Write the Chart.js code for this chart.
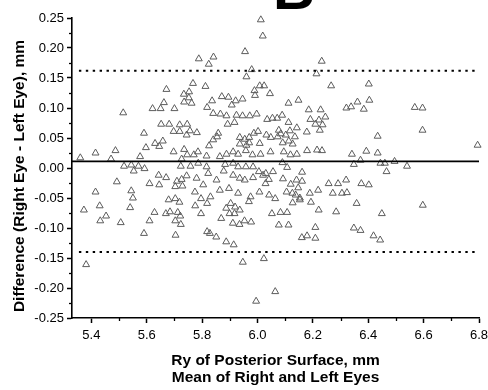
<!DOCTYPE html>
<html>
<head>
<meta charset="utf-8">
<script src="https://cdn.jsdelivr.net/npm/chart.js@4.4.0/dist/chart.umd.min.js"></script>
<style>
  html, body { margin: 0; padding: 0; background: #fff; }
  #wrap { width: 488px; height: 390px; }
</style>
</head>
<body>
<div id="wrap"><canvas id="chart" width="488" height="390"></canvas></div>
<script>
// ===============================
//  DATA
// ===============================
// x: Ry of posterior surface, mean of right and left eyes (mm)
const ryMean = [
  6.012, 6.019, 5.955, 5.788, 5.841, 5.824, 6.232, 5.979, 5.960, 6.213,
  5.671, 5.767, 5.812, 5.734, 5.753, 5.752, 5.735, 5.762, 6.008, 6.024,
  6.045, 5.989, 5.991, 6.266, 6.402, 6.404, 6.361, 6.384, 6.321, 6.338,
  6.148, 6.112, 6.185, 6.228, 6.191, 6.222, 6.245, 6.235, 6.568, 6.596,
  5.515, 5.621, 5.650, 5.662, 5.700, 5.818, 5.836, 5.840, 5.866, 5.871,
  5.895, 5.888, 5.907, 5.921, 5.946, 5.924, 5.946, 5.972, 5.997, 6.035,
  6.054, 6.071, 6.089, 6.112, 5.652, 5.681, 5.719, 5.746, 5.892, 5.917,
  6.209,
  6.077, 6.084, 6.102, 6.073, 6.117, 6.135, 6.113, 6.091, 6.127, 6.142,
  6.178, 6.225, 6.434, 6.596, 6.795, 6.095, 6.119, 6.142, 6.179, 6.215,
  6.233, 6.341, 6.393, 6.434, 6.372, 6.348, 6.444, 6.460, 6.495, 6.540,
  6.466, 6.107, 6.161, 6.092, 6.141, 6.161, 6.257, 6.291, 6.320, 6.375,
  6.402, 6.189, 6.219, 6.272, 6.305, 6.323, 6.105, 6.126, 6.147, 6.153,
  6.120, 6.138, 6.090,
  5.719, 5.744, 5.756, 5.781, 5.858, 5.936, 5.954, 5.970, 5.987, 6.002,
  6.032, 6.048, 5.735, 5.770, 5.746, 5.785, 5.825, 5.840, 5.854, 5.936,
  5.960, 5.970, 6.008, 6.047, 5.726, 5.816, 5.864, 5.888, 5.912, 5.930,
  5.958, 5.982, 6.011, 5.723, 5.758, 5.786, 5.816, 5.883, 5.912, 5.930,
  5.958, 5.984, 6.005, 6.030, 6.056, 5.726, 5.744, 5.780, 5.822, 5.852,
  5.878, 5.912, 5.936, 5.954, 5.984, 6.020, 6.041, 5.729, 5.774, 5.804,
  5.830, 5.864, 5.897, 5.930, 5.975, 6.007, 6.029, 6.042,
  5.697, 5.590, 5.658, 5.630, 5.645, 5.597, 5.697, 5.360, 5.415, 5.487,
  5.471, 5.576, 5.518, 5.544, 5.570, 5.592, 5.553, 5.643, 5.670, 5.492,
  5.610, 5.645, 5.415, 5.544, 5.550, 5.703, 5.709,
  5.373, 5.430, 5.432, 5.453, 5.506, 5.540, 5.590, 5.610, 5.628, 5.669,
  5.684, 5.703, 5.679, 5.718, 5.712, 5.721, 5.703, 5.723, 5.704, 5.775,
  5.796, 5.796, 5.381,
  6.597, 6.449, 6.348, 6.372, 6.419, 6.443, 6.209, 6.209, 6.160, 6.179,
  6.077, 6.112, 6.052, 6.083, 6.107, 6.284, 6.221, 6.358, 6.193, 6.064,
  5.969, 5.818, 5.869, 5.818, 5.828, 5.851, 5.887, 5.914, 5.887, 5.903,
  5.919, 5.899, 5.917, 5.911, 5.935, 5.953, 5.977, 5.947, 6.023, 5.995,
  6.064, 5.936, 6.127, 6.153
];

// y: difference, right eye - left eye (mm)
const ryDiff = [
  0.247, 0.220, 0.194, 0.182, 0.185, 0.173, 0.178, 0.164, 0.152, 0.157,
  0.131, 0.141, 0.136, 0.123, 0.127, 0.117, 0.110, 0.108, 0.137, 0.137,
  0.124, 0.129, 0.121, 0.137, 0.140, 0.113, 0.110, 0.098, 0.100, 0.102,
  0.113, 0.108, 0.097, 0.097, 0.081, 0.080, 0.085, 0.072, 0.101, 0.100,
  0.092, 0.099, 0.099, 0.109, 0.099, 0.101, 0.112, 0.091, 0.090, 0.119,
  0.118, 0.087, 0.105, 0.112, 0.115, 0.088, 0.087, 0.087, 0.090, 0.081,
  0.083, 0.083, 0.088, 0.076, 0.073, 0.073, 0.072, 0.073, 0.073, 0.076,
  0.073,
  0.063, 0.057, 0.055, 0.052, 0.062, 0.052, 0.045, 0.042, 0.040, 0.067,
  0.060, 0.063, 0.053, 0.063, 0.038, 0.027, 0.022, 0.023, 0.029, 0.030,
  0.029, 0.023, 0.028, 0.025, 0.013, 0.006, 0.008, 0.008, 0.011, 0.003,
  -0.006, 0.001, -0.007, -0.018, -0.020, -0.022, -0.026, -0.026, -0.020, -0.026,
  -0.028, -0.042, -0.037, -0.042, -0.042, -0.041, -0.040, -0.042, -0.033, -0.050,
  -0.027, -0.045, 0.009,
  0.061, 0.055, 0.062, 0.059, 0.058, 0.051, 0.048, 0.051, 0.058, 0.061,
  0.055, 0.051, 0.031, 0.022, 0.022, 0.027, 0.037, 0.047, 0.052, 0.040,
  0.038, 0.042, 0.041, 0.027, 0.015, 0.020, 0.019, 0.023, 0.027, 0.023,
  0.029, 0.022, 0.023, 0.003, 0.003, 0.008, 0.002, 0.006, 0.008, 0.002,
  0.002, 0.002, -0.006, -0.009, -0.006, -0.019, -0.013, -0.017, -0.009, -0.020,
  -0.005, -0.012, -0.017, -0.020, -0.016, -0.012, -0.019, -0.030, -0.040, -0.028,
  -0.048, -0.037, -0.034, -0.042, -0.048, -0.040, -0.026, -0.045,
  0.061, 0.058, 0.045, 0.041, 0.036, 0.034, 0.027, 0.017, 0.025, 0.029,
  0.015, 0.019, 0.003, 0.005, 0.003, -0.001, -0.005, -0.012, -0.016, -0.023,
  -0.026, -0.028, -0.040, -0.038, -0.050, -0.031, -0.022,
  -0.070, -0.063, -0.088, -0.080, -0.091, -0.066, -0.109, -0.088, -0.074, -0.076,
  -0.073, -0.051, -0.053, -0.057, -0.074, -0.080, -0.088, -0.094, -0.112, -0.063,
  -0.076, -0.051, -0.161,
  -0.062, -0.076, -0.100, -0.104, -0.113, -0.120, -0.099, -0.117, -0.116, -0.113,
  -0.095, -0.095, -0.076, -0.074, -0.074, -0.073, -0.070, -0.059, -0.057, -0.051,
  -0.056, -0.059, -0.084, -0.106, -0.109, -0.115, -0.123, -0.128, -0.067, -0.059,
  -0.065, -0.076, -0.076, -0.092, -0.094, -0.088, -0.090, -0.157, -0.151, -0.222,
  -0.206, -0.070, -0.058, -0.053
];

// mean difference and 95% limits of agreement
const meanDiff = 0.011;
const upperLoA = 0.162;
const lowerLoA = -0.140;
const meanLineX = [5.33, 6.8];
const loaLineX = [5.355, 6.785];

// axes
const xTicks = [5.4, 5.6, 5.8, 6.0, 6.2, 6.4, 6.6, 6.8];
const xMinor = [5.5, 5.7, 5.9, 6.1, 6.3, 6.5, 6.7];
const yTicks = [-0.25, -0.20, -0.15, -0.10, -0.05, 0.00, 0.05, 0.10, 0.15, 0.20, 0.25];
const yMinor = [-0.225, -0.175, -0.125, -0.075, -0.025, 0.025, 0.075, 0.125, 0.175, 0.225];
const xTitle = ["Ry of Posterior Surface, mm", "Mean of Right and Left Eyes"];
const yTitle = "Difference (Right Eye - Left Eye), mm";
const panelLabel = "B";

const FONT = "'Liberation Sans', Arial, sans-serif";
Chart.defaults.font.family = FONT;
Chart.defaults.color = "#000";

// ===============================
//  EXTRA DRAWING (minor ticks, y title, panel letter)
// ===============================
const extras = {
  id: "extras",
  afterDraw(chart) {
    const { ctx, scales: { x, y } } = chart;
    ctx.save();
    ctx.strokeStyle = "#000";
    ctx.lineWidth = 1.3;
    yMinor.forEach(v => {
      const py = Math.round(y.getPixelForValue(v)) + 0.5;
      ctx.beginPath();
      ctx.moveTo(x.left - 3, py);
      ctx.lineTo(x.left, py);
      ctx.stroke();
    });
    xMinor.forEach(v => {
      const px = Math.round(x.getPixelForValue(v)) + 0.5;
      ctx.beginPath();
      ctx.moveTo(px, y.bottom);
      ctx.lineTo(px, y.bottom + 3);
      ctx.stroke();
    });

    ctx.fillStyle = "#000";
    ctx.font = "bold 15.5px " + FONT;
    ctx.textAlign = "center";
    ctx.textBaseline = "alphabetic";
    ctx.translate(24, 176);
    ctx.rotate(-Math.PI / 2);
    ctx.fillText(yTitle, 0, 0);
    ctx.restore();

    ctx.save();
    ctx.fillStyle = "#000";
    ctx.font = "bold 58px " + FONT;
    ctx.textAlign = "left";
    ctx.textBaseline = "alphabetic";
    ctx.fillText(panelLabel, 273, 8.5);
    ctx.restore();
  }
};

// ===============================
//  CHART
// ===============================
const points = ryMean.map((v, i) => ({ x: v, y: ryDiff[i] }));
const hLine = (xs, yv) => xs.map(v => ({ x: v, y: yv }));

new Chart(document.getElementById("chart"), {
  type: "scatter",
  data: {
    datasets: [
      {
        label: "Mean",
        data: hLine(meanLineX, meanDiff),
        showLine: true,
        borderColor: "#000",
        borderWidth: 1.8,
        pointRadius: 0
      },
      {
        label: "Upper LoA",
        data: hLine(loaLineX, upperLoA),
        showLine: true,
        borderColor: "#000",
        borderWidth: 2,
        borderDash: [2.4, 4.5],
        pointRadius: 0
      },
      {
        label: "Lower LoA",
        data: hLine(loaLineX, lowerLoA),
        showLine: true,
        borderColor: "#000",
        borderWidth: 2,
        borderDash: [2.4, 4.5],
        pointRadius: 0
      },
      {
        label: "Eyes",
        data: points,
        pointStyle: "triangle",
        pointRadius: 4,
        borderWidth: 1,
        borderColor: "#5c5c5c",
        backgroundColor: "rgba(0,0,0,0)",
        clip: false
      }
    ]
  },
  options: {
    responsive: false,
    devicePixelRatio: 1,
    animation: false,
    layout: { padding: { top: 18, right: 9, bottom: 0, left: 0 } },
    plugins: { legend: { display: false }, tooltip: { enabled: false } },
    scales: {
      x: {
        type: "linear",
        min: 5.33,
        max: 6.8,
        afterBuildTicks: s => { s.ticks = xTicks.map(v => ({ value: v })); },
        afterFit: s => { s.height = 72; s.paddingLeft = 0; s.paddingRight = 0; },
        ticks: {
          autoSkip: false,
          maxRotation: 0,
          padding: 5,
          font: { size: 13 },
          callback: v => Number(v).toFixed(1)
        },
        grid: { drawOnChartArea: false, tickLength: 5, tickColor: "#000", tickWidth: 1.5 },
        border: { color: "#000", width: 1.6 },
        title: {
          display: true,
          text: xTitle,
          font: { size: 15.5, weight: "bold", lineHeight: 1.13 },
          padding: { top: 4, bottom: 3.5 }
        }
      },
      y: {
        type: "linear",
        min: -0.25,
        max: 0.25,
        afterBuildTicks: s => { s.ticks = yTicks.map(v => ({ value: v })); },
        afterFit: s => { s.width = 72; },
        ticks: {
          autoSkip: false,
          padding: 3,
          font: { size: 13 },
          callback: v => Number(v).toFixed(2)
        },
        grid: { drawOnChartArea: false, tickLength: 5, tickColor: "#000", tickWidth: 1.5 },
        border: { color: "#000", width: 1.6 }
      }
    }
  },
  plugins: [extras]
});
</script>
</body>
</html>
